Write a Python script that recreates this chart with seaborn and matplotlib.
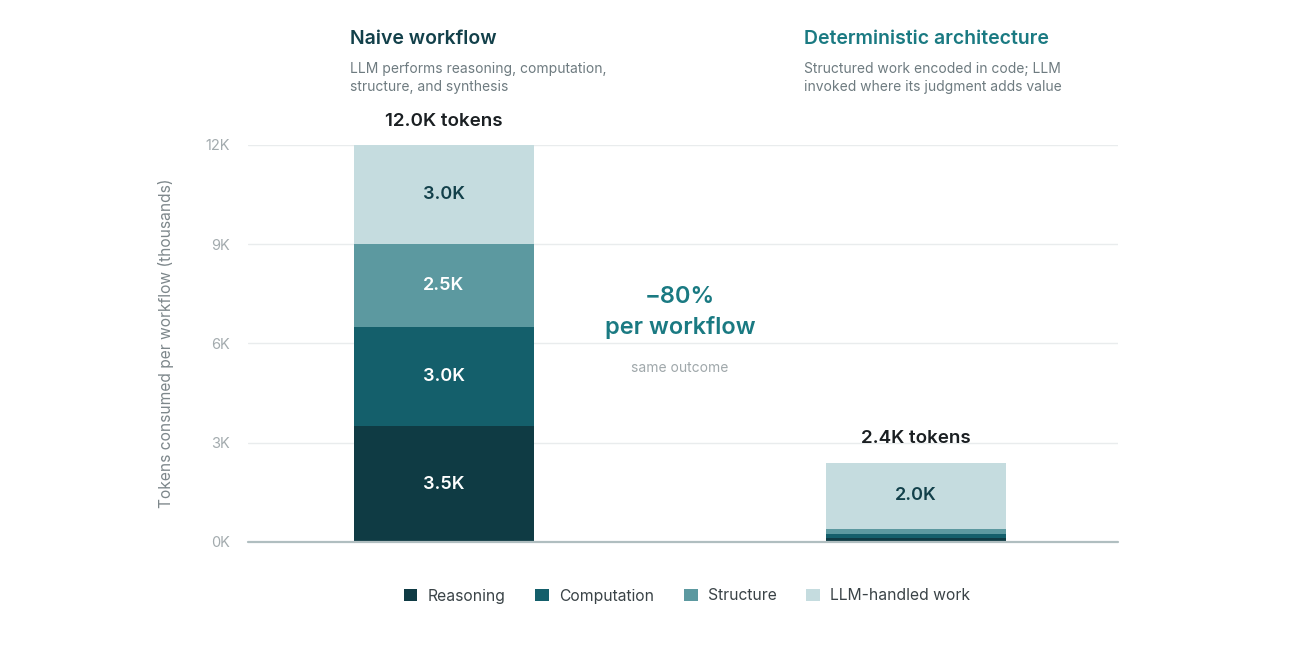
import numpy as np
import pandas as pd
import matplotlib.pyplot as plt
import seaborn as sns
from matplotlib.patches import Patch

# dados (milhares de tokens)
workflows = ["Naive workflow", "Deterministic architecture"]
layers = ["Reasoning", "Computation", "Structure", "LLM-handled work"]
reasoning = [3.5, 0.12]
computation = [3.0, 0.13]
structure = [2.5, 0.15]
llm_work = [3.0, 2.0]
totals_text = ["12.0K tokens", "2.4K tokens"]
yticks = [0, 3, 6, 9, 12]
ytick_labels = ["0K", "3K", "6K", "9K", "12K"]

colors = ["#0f3b44", "#145f6b", "#5c99a0", "#c5dcdf"]
label_colors = ["white", "white", "white", "#12404a"]

sns.set_style("white")
plt.rcParams['font.family'] = ['Inter', 'DejaVu Sans']

df = pd.DataFrame({"workflow": workflows, "Reasoning": reasoning,
                   "Computation": computation, "Structure": structure,
                   "LLM-handled work": llm_work})
cum = df[layers].cumsum(axis=1)

fig = plt.figure(figsize=(13, 6.5), dpi=100)
ax = fig.add_axes([0.1908, 0.1662, 0.6692, 0.6108])

# barras empilhadas: desenha do topo para baixo
for layer, c in reversed(list(zip(layers, colors))):
    sns.barplot(x=df["workflow"], y=cum[layer], color=c, width=0.381,
                saturation=1, ax=ax, zorder=2, linewidth=0)

ax.set_xlim(-0.415, 1.428)
ax.set_ylim(0, 12)
ax.set_yticks(yticks)
ax.set_yticklabels(ytick_labels)
ax.set_xticks([])
ax.set_xlabel("")
ax.set_ylabel("Tokens consumed per workflow (thousands)", fontsize=11.2,
              color="#7d878b", labelpad=23)
ax.tick_params(axis="y", length=0, pad=13, labelsize=10.5, labelcolor="#a3abae")
for y in yticks[1:]:
    ax.axhline(y, color="#e9eced", lw=1, zorder=0)
ax.axhline(0, color="#b0bec0", lw=1.6, zorder=3, clip_on=False)
sns.despine(ax=ax, left=True, bottom=True)

# rótulos dos segmentos
for i in range(len(workflows)):
    prev = 0
    for layer, lc in zip(layers, label_colors):
        v = df.loc[i, layer]
        if v >= 1:
            ax.text(i, prev + v / 2, f"{v:.1f}K", ha="center", va="center",
                    fontsize=13, fontweight="semibold", color=lc, zorder=4)
        prev += v
    ax.annotate(totals_text[i], (i, cum.loc[i, "LLM-handled work"]),
                xytext=(0, 17), textcoords="offset points", ha="center",
                va="center", fontsize=13.5, fontweight="semibold", color="#1a1f22")

# anotação central
ax.text(0.5, 7.41, "\u221280%", ha="center", va="center", fontsize=17,
        fontweight="semibold", color="#1a7a82")
ax.text(0.5, 6.47, "per workflow", ha="center", va="center", fontsize=17,
        fontweight="semibold", color="#1a7a82")
ax.text(0.5, 5.26, "same outcome", ha="center", va="center", fontsize=10,
        color="#a0a8ab")

# títulos
fig.text(350 / 1300, 1 - 39 / 650, "Naive workflow", ha="left", va="center",
         fontsize=14, fontweight="semibold", color="#12404a")
fig.text(350 / 1300, 1 - 78 / 650,
         "LLM performs reasoning, computation,\nstructure, and synthesis",
         ha="left", va="center", fontsize=10, color="#6e7b80", linespacing=1.3)
fig.text(804 / 1300, 1 - 39 / 650, "Deterministic architecture", ha="left",
         va="center", fontsize=14, fontweight="semibold", color="#1a7a82")
fig.text(804 / 1300, 1 - 78 / 650,
         "Structured work encoded in code; LLM\ninvoked where its judgment adds value",
         ha="left", va="center", fontsize=10, color="#6e7b80", linespacing=1.3)

handles = [Patch(facecolor=c, edgecolor="none", label=l) for l, c in zip(layers, colors)]
fig.legend(handles=handles, loc="center", bbox_to_anchor=(687 / 1300, 1 - 596 / 650),
           ncol=4, frameon=False, fontsize=11.3, handlelength=0.88,
           handleheight=0.88, handletextpad=0.64, columnspacing=1.9,
           labelcolor="#3a4347")

plt.savefig("out.png", dpi=100)
